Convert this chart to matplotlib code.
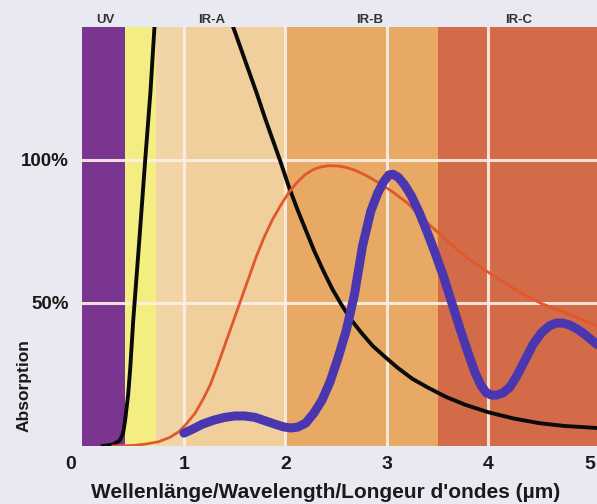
import matplotlib
matplotlib.use("Agg")
import matplotlib.pyplot as plt
import matplotlib.transforms as mtransforms

# ---- data ----
band_edges = [0.0, 0.42, 0.72, 1.0, 2.0, 3.5, 5.07]
band_colors = ["#7a3590", "#f4ee82", "#f2d5a6", "#f0cf9d", "#e7a964", "#d36b49"]

band_labels = ["UV", "IR-A", "IR-B", "IR-C"]
band_label_x = [0.23, 1.27, 2.83, 4.30]

black_rise_x = [0.20, 0.30, 0.37, 0.40, 0.42, 0.45, 0.47, 0.50, 0.56, 0.62, 0.67, 0.71]
black_rise_y = [0.0, 0.5, 2.0, 4.5, 9.0, 18.0, 27.0, 44.0, 72.0, 101.0, 124.0, 147.0]

black_fall_x = [1.48, 1.55, 1.63, 1.72, 1.80, 1.88, 1.95, 2.03, 2.12, 2.20, 2.28, 2.37,
                2.46, 2.55, 2.65, 2.75, 2.86, 2.97, 3.10, 3.25, 3.40, 3.58, 3.78, 4.00,
                4.25, 4.50, 4.75, 5.07]
black_fall_y = [147.0, 140.0, 132.0, 123.0, 114.5, 106.5, 99.5, 91.0, 82.5, 75.5, 68.5, 61.5,
                55.0, 49.5, 44.0, 39.5, 35.0, 31.5, 27.5, 23.5, 20.5, 17.2, 14.3, 11.8,
                9.6, 8.0, 7.0, 6.3]

red_x = [0.30, 0.50, 0.63, 0.75, 0.86, 0.95, 1.03, 1.11, 1.19, 1.26, 1.33, 1.40, 1.48, 1.55,
         1.63, 1.71, 1.79, 1.87, 1.95, 2.03, 2.11, 2.19, 2.27, 2.35, 2.43, 2.52, 2.61, 2.70,
         2.80, 2.92, 3.05, 3.20, 3.40, 3.60, 3.80, 4.01, 4.25, 4.51, 4.80, 5.07]
red_y = [0.0, 0.2, 0.7, 1.5, 3.0, 5.0, 8.0, 11.5, 16.5, 21.5, 28.0, 35.0, 43.0, 50.0,
         58.0, 66.0, 73.0, 79.0, 84.0, 88.5, 92.0, 94.8, 96.6, 97.6, 98.0, 97.9, 97.3, 96.2,
         94.5, 92.0, 89.0, 85.0, 78.0, 71.5, 65.5, 60.5, 55.0, 50.0, 46.0, 42.0]

blue_x = [1.00, 1.08, 1.18, 1.29, 1.40, 1.50, 1.60, 1.70, 1.80, 1.90, 1.98, 2.05, 2.12,
          2.20, 2.28, 2.36, 2.44, 2.52, 2.60, 2.68, 2.76, 2.84, 2.91, 2.97, 3.02, 3.06,
          3.11, 3.17, 3.24, 3.32, 3.40, 3.48, 3.56, 3.64, 3.72, 3.80, 3.87, 3.93, 3.98,
          4.03, 4.08, 4.14, 4.21, 4.28, 4.36, 4.44, 4.52, 4.60, 4.67, 4.73, 4.80, 4.87,
          4.95, 5.07]
blue_y = [4.5, 5.8, 7.6, 9.0, 10.0, 10.5, 10.5, 10.0, 8.8, 7.6, 6.7, 6.3, 6.6,
          8.0, 11.5, 16.0, 22.5, 31.0, 40.5, 53.0, 70.0, 82.0, 88.5, 92.5, 94.8, 95.0,
          94.0, 91.5, 87.5, 81.5, 74.5, 67.0, 59.0, 50.0, 41.0, 32.5, 25.5, 21.0, 18.6,
          17.8, 17.8, 18.5, 20.5, 24.5, 30.0, 35.5, 39.5, 42.0, 43.0, 43.0, 42.3, 41.0,
          39.0, 35.5]

x_ticks = [0, 1, 2, 3, 4, 5]
y_ticks = [50, 100]
y_tick_labels = ["50%", "100%"]

# ---- figure ----
bg = "#e9e9f1"
fig = plt.figure(figsize=(5.97, 5.04), dpi=100, facecolor=bg)
ax = fig.add_axes([82.5 / 597, 58 / 504, (597 - 82.5) / 597, (446 - 27) / 504])
ax.set_facecolor(bg)
ax.set_xlim(0, 5.07)
ax.set_ylim(0, 146.5)

for i, c in enumerate(band_colors):
    ax.axvspan(band_edges[i], band_edges[i + 1], color=c, lw=0, zorder=0)

grid_c = "#fbf0e6"
for xv in x_ticks[1:5]:
    ax.axvline(xv, color=grid_c, lw=2.2, alpha=0.9, zorder=1)
for yv in y_ticks:
    ax.axhline(yv, color=grid_c, lw=2.2, alpha=0.9, zorder=1)

ax.plot(black_rise_x, black_rise_y, color="#0a0a0a", lw=2.8, zorder=3,
        solid_joinstyle="round")
ax.plot(black_fall_x, black_fall_y, color="#0a0a0a", lw=2.8, zorder=3,
        solid_joinstyle="round")
ax.plot(red_x, red_y, color="#e0582c", lw=2.0, zorder=3, solid_joinstyle="round")
ax.plot(blue_x, blue_y, color="#4a37b0", lw=6.5, zorder=4,
        solid_capstyle="round", solid_joinstyle="round")

for s in ax.spines.values():
    s.set_visible(False)

ax.set_xticks(x_ticks)
ax.set_xticklabels([str(v) for v in x_ticks])
ax.set_yticks(y_ticks)
ax.set_yticklabels(y_tick_labels)
ax.tick_params(axis="both", length=0)
ax.tick_params(axis="x", pad=7, labelsize=14, labelcolor="#1a1a1a")
ax.tick_params(axis="y", pad=10, labelsize=13.5, labelcolor="#1a1a1a")
for lab in ax.get_xticklabels() + ax.get_yticklabels():
    lab.set_fontweight("bold")
    lab.set_family("Liberation Sans")

# shift the "0" tick label left like in the original
off = mtransforms.ScaledTranslation(-12 / 100, 0, fig.dpi_scale_trans)
lab0 = ax.get_xticklabels()[0]
lab0.set_transform(lab0.get_transform() + off)

for lbl, lx in zip(band_labels, band_label_x):
    ax.text(lx, 1.003, lbl, transform=ax.get_xaxis_transform(), ha="center", va="bottom",
            fontsize=9.5, fontweight="bold", color="#333333", family="Liberation Sans")

fig.text(326 / 597, 1 - 492 / 504, "Wellenlänge/Wavelength/Longeur d'ondes (µm)",
         ha="center", va="center", fontsize=15, fontweight="bold", color="#1a1a1a",
         family="Liberation Sans")
fig.text(24 / 597, 1 - 386 / 504, "Absorption", rotation=90, ha="center", va="center",
         fontsize=12.5, fontweight="bold", color="#1a1a1a", family="Liberation Sans")

fig.savefig("out.png", dpi=100, facecolor=bg)
